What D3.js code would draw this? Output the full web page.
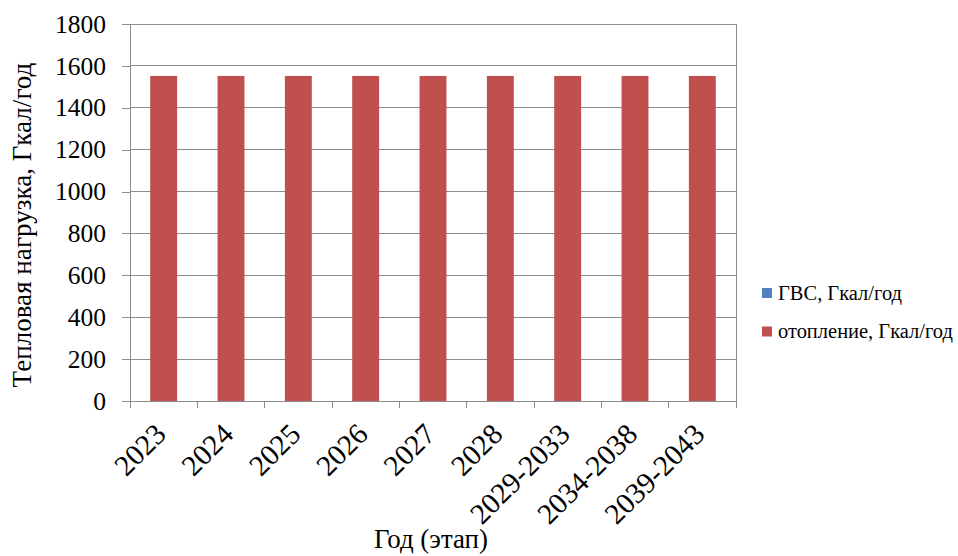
<html>
<head>
<meta charset="utf-8">
<script src="https://cdn.jsdelivr.net/npm/d3@7"></script>
</head>
<body style="margin:0">
<svg id="chart" width="958" height="556"></svg>
<script>
// Heat load by year (stage)
const categories = ["2023", "2024", "2025", "2026", "2027", "2028", "2029-2033", "2034-2038", "2039-2043"];
const gvsValues = [0, 0, 0, 0, 0, 0, 0, 0, 0];
const heatingValues = [1552, 1552, 1552, 1552, 1552, 1552, 1552, 1552, 1552];
const seriesNames = ["ГВС, Гкал/год", "отопление, Гкал/год"];
const seriesColors = ["#4F81BD", "#C0504D"];
const yTicks = [0, 200, 400, 600, 800, 1000, 1200, 1400, 1600, 1800];
const yTitle = "Тепловая нагрузка, Гкал/год";
const xTitle = "Год (этап)";

const FONT = "Liberation Serif";
const GRID = "#8c8c8c";
const svg = d3.select("#chart").attr("font-family", FONT);
const m = { left: 130, right: 736, top: 24, bottom: 401 };

// font size that gives a string the wanted advance width
function fitSize(str, width) {
  const t = svg.append("text").attr("font-family", FONT).attr("font-size", 20).text(str);
  const len = t.node().getComputedTextLength();
  t.remove();
  return Math.max(12, Math.min(30, 20 * width / len));
}
const tickSize = fitSize("1800", 51);
const catSize = fitSize("2039-2043", 127);
const yTitleSize = fitSize(yTitle, 325);
const xTitleSize = fitSize(xTitle, 114);
const legendSize = fitSize(seriesNames[1], 175);

const x = d3.scaleBand().domain(categories).range([m.left, m.right]).paddingInner(0.6).paddingOuter(0.3);
const xBand = d3.scaleBand().domain(categories).range([m.left, m.right]);
const y = d3.scaleLinear().domain([0, 1800]).range([m.bottom, m.top]);

// horizontal gridlines
svg.append("g").selectAll("line").data(yTicks.filter(d => d > 0)).join("line")
  .attr("x1", m.left).attr("x2", m.right)
  .attr("y1", d => y(d)).attr("y2", d => y(d))
  .attr("stroke", GRID).attr("shape-rendering", "crispEdges");
// right border of the plot area
svg.append("line").attr("x1", m.right).attr("x2", m.right).attr("y1", m.top).attr("y2", m.bottom)
  .attr("stroke", GRID).attr("shape-rendering", "crispEdges");

// stacked bars: ГВС at the bottom, отопление on top
const table = categories.map((c, i) => ({ cat: c, gvs: gvsValues[i], heat: heatingValues[i] }));
const stack = d3.stack().keys(["gvs", "heat"])(table);
svg.append("g").selectAll("g").data(stack).join("g")
  .attr("fill", (d, i) => seriesColors[i])
  .selectAll("rect").data(d => d).join("rect")
  .attr("x", d => x(d.data.cat))
  .attr("width", x.bandwidth())
  .attr("y", d => y(d[1]))
  .attr("height", d => y(d[0]) - y(d[1]));

// y axis
const yAxis = svg.append("g").attr("transform", `translate(${m.left},0)`)
  .call(d3.axisLeft(y).tickValues(yTicks).tickFormat(d3.format("d")).tickSize(8).tickPadding(16));
yAxis.attr("font-family", FONT).attr("font-size", tickSize);
yAxis.select(".domain").attr("stroke", GRID).attr("shape-rendering", "crispEdges");
yAxis.selectAll(".tick line").attr("stroke", GRID).attr("shape-rendering", "crispEdges");
yAxis.selectAll("text").attr("font-family", FONT).attr("font-size", tickSize).attr("fill", "#000");

// x axis
const xAxis = svg.append("g").attr("transform", `translate(0,${m.bottom})`)
  .call(d3.axisBottom(xBand).tickSize(0).tickFormat(""));
xAxis.select(".domain").attr("stroke", GRID).attr("shape-rendering", "crispEdges");
svg.append("g").selectAll("line").data(d3.range(categories.length + 1)).join("line")
  .attr("x1", i => m.left + i * xBand.step()).attr("x2", i => m.left + i * xBand.step())
  .attr("y1", m.bottom).attr("y2", m.bottom + 7)
  .attr("stroke", GRID).attr("shape-rendering", "crispEdges");
svg.append("g").selectAll("text").data(categories).join("text")
  .attr("transform", d => `translate(${xBand(d) + xBand.bandwidth() / 2 + 4},${m.bottom + 35}) rotate(-45)`)
  .attr("text-anchor", "end")
  .attr("font-family", FONT).attr("font-size", catSize)
  .text(d => d);

// axis titles
svg.append("text").attr("transform", `translate(31,225) rotate(-90)`)
  .attr("text-anchor", "middle").attr("font-family", FONT).attr("font-size", yTitleSize)
  .text(yTitle);
svg.append("text").attr("x", 431).attr("y", 548)
  .attr("text-anchor", "middle").attr("font-family", FONT).attr("font-size", xTitleSize)
  .text(xTitle);

// legend
const legend = svg.append("g").selectAll("g").data(seriesNames).join("g")
  .attr("transform", (d, i) => `translate(762,${288 + i * 38.5})`);
legend.append("rect").attr("width", 10).attr("height", 10).attr("fill", (d, i) => seriesColors[i]);
legend.append("text").attr("x", 16).attr("y", 11.5)
  .attr("font-family", FONT).attr("font-size", legendSize).text(d => d);
</script>
</body>
</html>
